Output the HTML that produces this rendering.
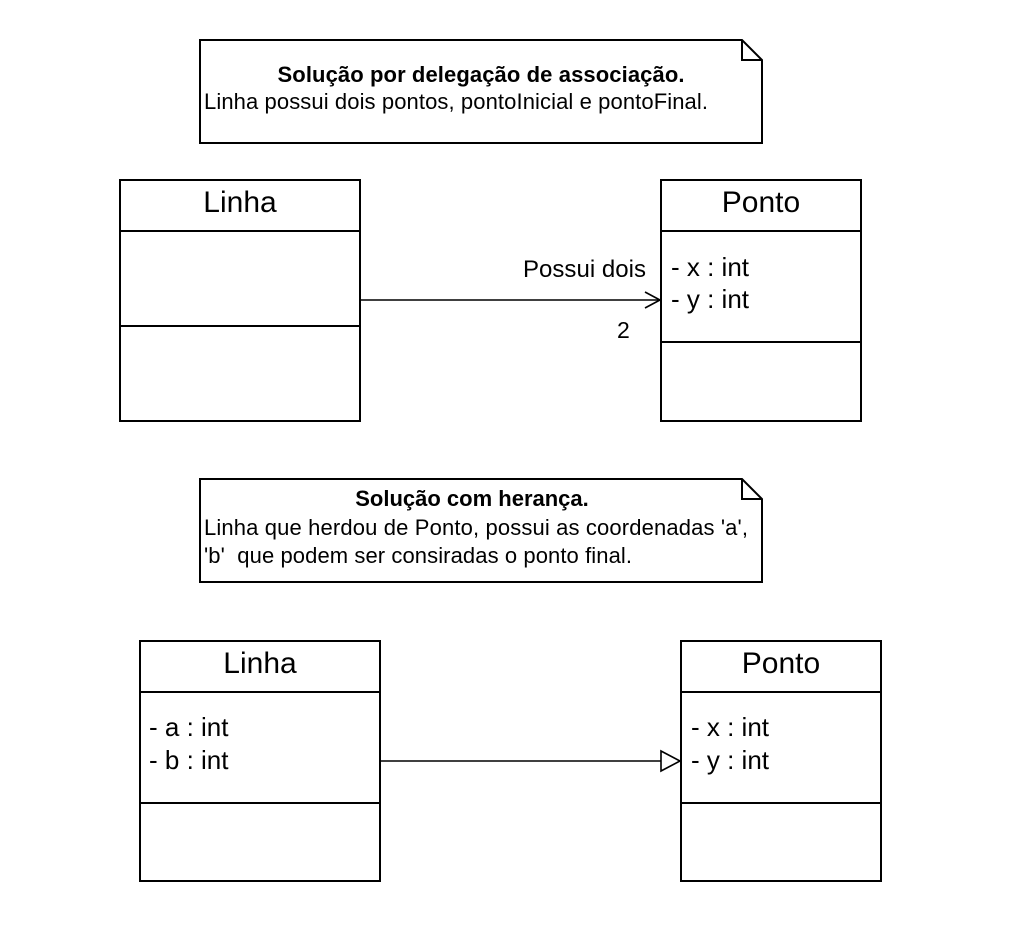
<!DOCTYPE html>
<html><head><meta charset="utf-8"><style>
html,body{margin:0;padding:0;background:#fff;}
svg{display:block;}
text{font-family:"Liberation Sans",Arial,sans-serif;fill:#000;}
</style></head><body>
<svg width="1009" height="940" viewBox="0 0 1009 940" xmlns="http://www.w3.org/2000/svg">
<g fill="#fff" stroke="#000" stroke-width="2">
<path d="M200 40 H742 L762 60 V143 H200 Z"/>
<path d="M742 40 V60 H762" fill="none"/>
<path d="M200 479 H742 L762 499 V582 H200 Z"/>
<path d="M742 479 V499 H762" fill="none"/>
<rect x="120" y="180" width="240" height="241"/>
<line x1="120" y1="231" x2="360" y2="231"/>
<line x1="120" y1="326" x2="360" y2="326"/>
<rect x="661" y="180" width="200" height="241"/>
<line x1="661" y1="231" x2="861" y2="231"/>
<line x1="661" y1="342" x2="861" y2="342"/>
<rect x="140" y="641" width="240" height="240"/>
<line x1="140" y1="692" x2="380" y2="692"/>
<line x1="140" y1="803" x2="380" y2="803"/>
<rect x="681" y="641" width="200" height="240"/>
<line x1="681" y1="692" x2="881" y2="692"/>
<line x1="681" y1="803" x2="881" y2="803"/>
</g>
<g stroke="#000" stroke-width="1.6" fill="none">
<line x1="360" y1="300" x2="660" y2="300"/>
<polyline points="645,292 660,300 645,308"/>
<line x1="380" y1="761" x2="661" y2="761"/>
<polygon points="661,751 680,761 661,771" fill="#fff"/>
</g>
<text x="481" y="82" font-size="22" font-weight="bold" text-anchor="middle" textLength="407">Solução por delegação de associação.</text>
<text x="204" y="109" font-size="22" textLength="504">Linha possui dois pontos, pontoInicial e pontoFinal.</text>
<text x="472" y="506" font-size="22" font-weight="bold" text-anchor="middle">Solução com herança.</text>
<text x="204" y="535" font-size="22" textLength="544">Linha que herdou de Ponto, possui as coordenadas 'a',</text>
<text x="204" y="563" font-size="22" textLength="428" xml:space="preserve">'b'  que podem ser consiradas o ponto final.</text>
<text x="240" y="212" font-size="30" text-anchor="middle">Linha</text>
<text x="761" y="212" font-size="30" text-anchor="middle">Ponto</text>
<text x="671" y="276" font-size="26">- x : int</text>
<text x="671" y="308" font-size="26">- y : int</text>
<text x="646" y="277" font-size="24" text-anchor="end" textLength="123">Possui dois</text>
<text x="617" y="338" font-size="23">2</text>
<text x="260" y="673" font-size="30" text-anchor="middle">Linha</text>
<text x="781" y="673" font-size="30" text-anchor="middle">Ponto</text>
<text x="149" y="736" font-size="26">- a : int</text>
<text x="149" y="769" font-size="26">- b : int</text>
<text x="691" y="736" font-size="26">- x : int</text>
<text x="691" y="769" font-size="26">- y : int</text>
</svg>
</body></html>
